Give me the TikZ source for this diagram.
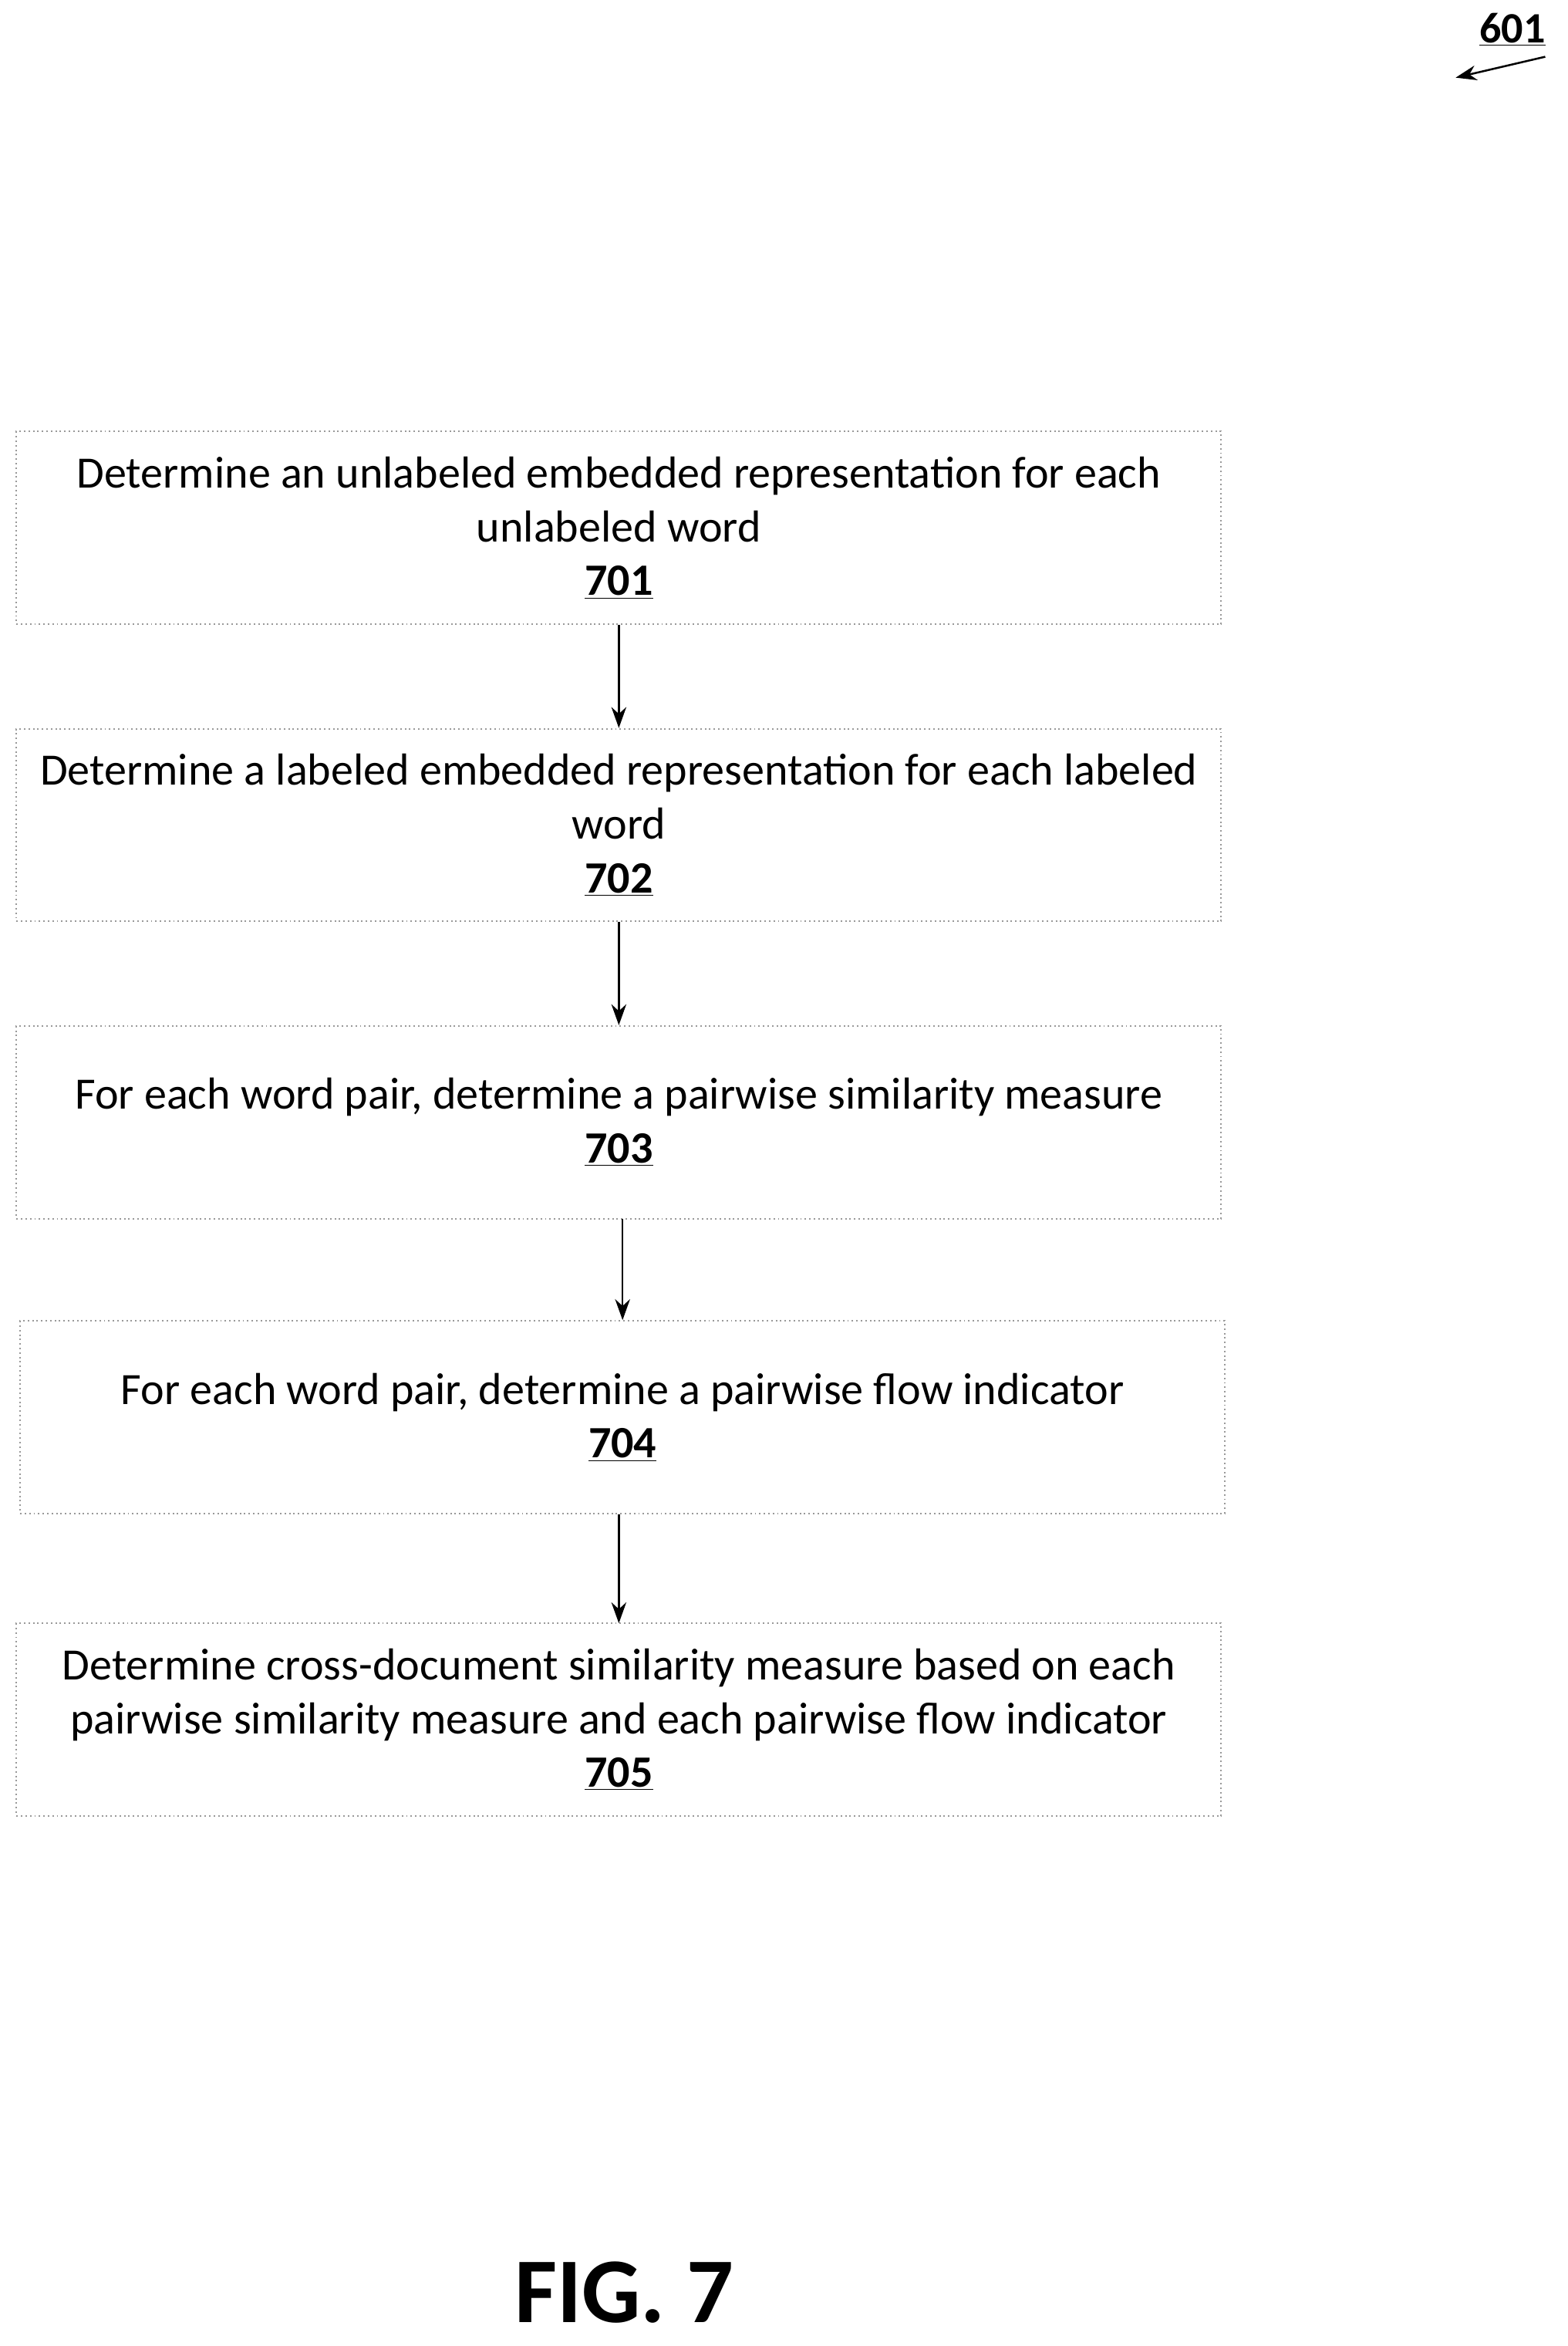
\documentclass[tikz,border=0pt]{standalone}
\usepackage{fontspec}
\setmainfont{Carlito}
\usetikzlibrary{arrows.meta}
\begin{document}
\begin{tikzpicture}[x=1pt,y=-1pt,
  box/.style={draw=gray!80,dotted,line width=1pt,minimum width=807pt,minimum height=129pt,align=center,font=\fontsize{30}{36}\selectfont,inner sep=0pt},
  arr/.style={-{Stealth[length=14pt,width=10pt]},line width=1.3pt}]
\useasboundingbox (0,0) rectangle (1050,1571);
\node[box] (b1) at (414.5,353.5) {\raisebox{-2pt}{\parbox{800pt}{\centering Determine an unlabeled embedded representation for each\\unlabeled word\\\textbf{\underline{701}}}}};
\node[box] (b2) at (414.5,552.5) {\raisebox{-2pt}{\parbox{800pt}{\centering Determine a labeled embedded representation for each labeled\\word\\\textbf{\underline{702}}}}};
\node[box] (b3) at (414.5,751.5) {\raisebox{-2pt}{\parbox{800pt}{\centering For each word pair, determine a pairwise similarity measure\\\textbf{\underline{703}}}}};
\node[box] (b4) at (417,949) {\raisebox{-2pt}{\parbox{800pt}{\centering For each word pair, determine a pairwise flow indicator\\\textbf{\underline{704}}}}};
\node[box] (b5) at (414.5,1151.5) {\raisebox{-2pt}{\parbox{800pt}{\centering Determine cross-document similarity measure based on each\\pairwise similarity measure and each pairwise flow indicator\\\textbf{\underline{705}}}}};
\draw[arr] (b1.south) -- (b2.north);
\draw[arr] (b2.south) -- (b3.north);
\draw[arr] (417,816) -- (417,884);
\draw[arr] (414.5,1014) -- (414.5,1087);
\node[font=\fontsize{29}{32}\selectfont\bfseries] (ref) at (1013,20) {\underline{601}};
\coordinate (rs) at (1035,38);
\draw[arr] (rs) -- (975,52);
\node[font=\fontsize{62}{70}\selectfont\bfseries] (fig) at (418,1535) {FIG. 7};
\end{tikzpicture}
\end{document}
